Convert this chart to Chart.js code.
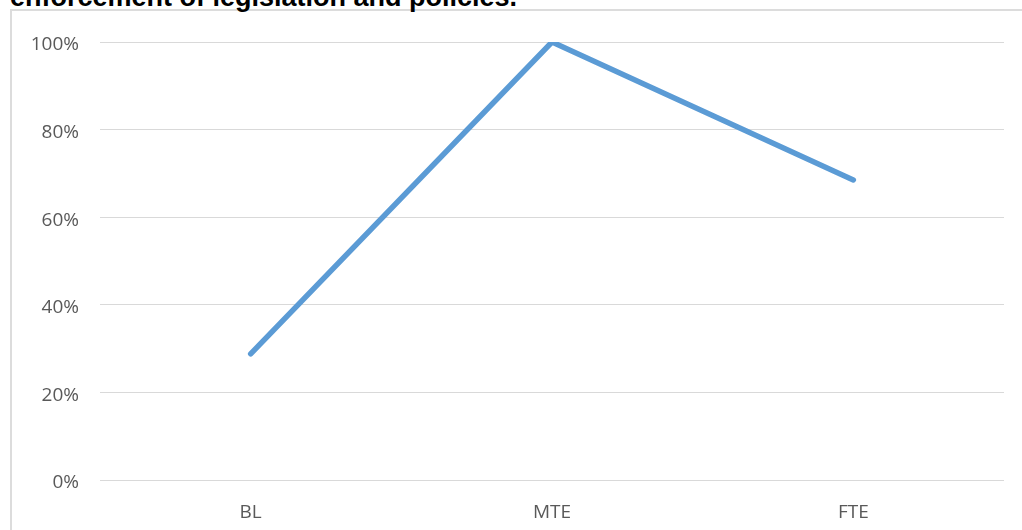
<!DOCTYPE html>
<html>
<head>
<meta charset="utf-8">
<script src="https://cdn.jsdelivr.net/npm/chart.js@4.4.1/dist/chart.umd.min.js"></script>
<style>
  html, body { margin: 0; padding: 0; background: #fff; overflow: hidden; }
  #frame {
    position: absolute; left: 10px; top: 9px;
    width: 1100px; height: 600px;
    border: 2px solid #dcdcdc;
  }
  #title {
    position: absolute; left: 10px; top: -16px;
    font: bold 27px "Liberation Sans", Arial, sans-serif;
    line-height: 27px; color: #000; white-space: nowrap;
  }
  #wrap { position: absolute; left: 0; top: 0; width: 1022px; height: 530px; }
</style>
</head>
<body>
<div id="frame"></div>
<div id="title">enforcement of legislation and policies.</div>
<div id="wrap"><canvas id="myChart" width="1022" height="530"></canvas></div>
<script>
// 데이터 ====================================
const categories = ["BL", "MTE", "FTE"];
const seriesValues = [28.8, 100, 68.5];
const yTicks = [0, 20, 40, 60, 80, 100];

//chart 설정======================================
function makechart(domId) {
  let chartArea = document.getElementById(domId).getContext("2d");
  let mychart = new Chart(chartArea, {
    type: "line",
    data: {
      labels: categories,
      datasets: [
        {
          data: seriesValues,
          borderColor: "#5b9bd5",
          borderWidth: 5.5,
          borderCapStyle: "round",
          borderJoinStyle: "round",
          pointRadius: 0,
          tension: 0,
          fill: false,
        },
      ],
    },
    options: {
      responsive: false,
      animation: false,
      layout: { padding: { top: 42, right: 18, left: 0, bottom: 0 } },
      plugins: {
        legend: { display: false },
        tooltip: { enabled: false },
      },
      scales: {
        x: {
          offset: true,
          grid: { display: false },
          border: { display: false },
          ticks: {
            padding: 13,
            color: "#595959",
            font: { family: "'Open Sans'", size: 19 },
          },
          afterFit: function (scale) {
            scale.height = 50;
          },
        },
        y: {
          min: yTicks[0],
          max: yTicks[yTicks.length - 1],
          afterBuildTicks: function (scale) {
            scale.ticks = yTicks.map(function (v) { return { value: v }; });
          },
          grid: { color: "#d9d9d9", lineWidth: 1, drawTicks: false },
          border: { display: false },
          ticks: {
            padding: 21,
            labelOffset: 3,
            color: "#595959",
            font: { family: "'Open Sans'", size: 19 },
            callback: function (v) { return v + "%"; },
          },
          afterFit: function (scale) {
            scale.width = 100;
          },
        },
      },
    },
  });
  return mychart;
}

window.addEventListener("load", function () {
  makechart("myChart");
});
</script>
</body>
</html>
